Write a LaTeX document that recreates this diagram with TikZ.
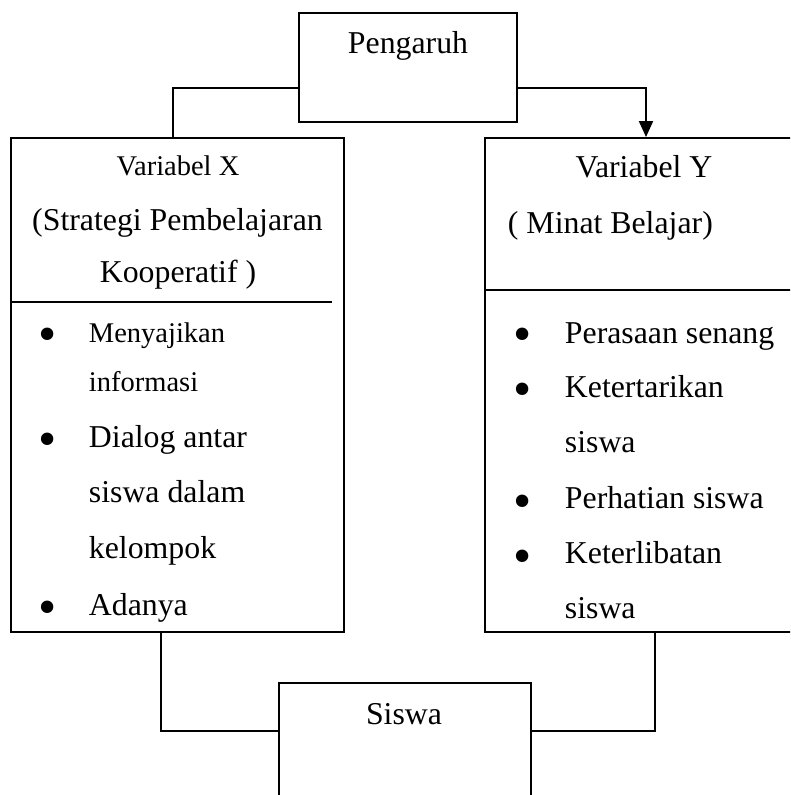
\documentclass[tikz,border=0pt]{standalone}
\usepackage{fontspec}
\setmainfont{Liberation Serif}
\usetikzlibrary{arrows.meta}
\tikzset{
	box/.style={draw,inner sep=0pt},
	txt/.style={inner sep=0pt,anchor=base,font=\fontsize{31.8}{38}\selectfont},
	smalltxt/.style={txt,font=\fontsize{28.5}{34}\selectfont},
	lefttxt/.style={txt,anchor=base west},
	bullet/.style={txt,font=\fontsize{52}{60}\selectfont},
}
\begin{document}
\begin{tikzpicture}[x=1pt,y=-1pt,line width=1.9pt]
	\useasboundingbox (0,0) rectangle (790,795);
	\clip (0,0) rectangle (790,795);
	
	%boxes
	\node[box,minimum width=218pt,minimum height=109pt] (pengaruh) at (408,67.5) {};
	\node[box,minimum width=333pt,minimum height=494pt] (varx) at (177.5,385) {};
	\node[box,minimum width=322pt,minimum height=494pt] (vary) at (646,385) {};
	\node[box,minimum width=252pt,minimum height=150pt] (siswa) at (405,758) {}; %open at the bottom
	
	%dividers
	\draw (varx.west |- 0,302) -- ([xshift=-13pt]varx.east |- 0,302);
	\draw (vary.west |- 0,290) -- (vary.east |- 0,290);
	
	%connectors
	\draw ([yshift=-20.5pt]pengaruh.west) -| ([xshift=-4.5pt]varx.north);
	\draw[-{Triangle[width=14pt,length=16pt]}] ([yshift=-20.5pt]pengaruh.east) -| (vary.north);
	\draw ([xshift=-16.5pt]varx.south) |- ([yshift=-49pt]siswa.north west);
	\draw ([xshift=9pt]vary.south) |- ([yshift=-49pt]siswa.north east);
	
	%titles
	\node[txt] (pengaruhlbl) at (408,53) {Pengaruh};
	\node[smalltxt] (varxlbl) at (178,175) {Variabel X};
	\node[txt] (varxsub) at (177.5,230) {(Strategi Pembelajaran};
	\node[txt] (varxsub2) at (178,282) {Kooperatif )};
	\node[txt] (varylbl) at (644,177) {Variabel Y};
	\node[lefttxt] (varysub) at (507,233) {( Minat Belajar)};
	\node[txt] (siswalbl) at (404,724) {Siswa};
	
	%list X
	\node[bullet] (bx1) at (48,351) {\textbullet};
	\node[bullet] (bx2) at (48,456) {\textbullet};
	\node[bullet] (bx3) at (48,624) {\textbullet};
	\node[smalltxt,anchor=base west] (x1a) at (88,342) {Menyajikan};
	\node[smalltxt,anchor=base west] (x1b) at (88,391) {informasi};
	\node[lefttxt] (x2a) at (88,447) {Dialog antar};
	\node[lefttxt] (x2b) at (88,502) {siswa dalam};
	\node[lefttxt] (x2c) at (88,558) {kelompok};
	\node[lefttxt] (x3a) at (88,615) {Adanya};
	
	%list Y
	\node[bullet] (by1) at (523,351) {\textbullet};
	\node[bullet] (by2) at (523,406) {\textbullet};
	\node[bullet] (by3) at (523,518) {\textbullet};
	\node[bullet] (by4) at (523,573) {\textbullet};
	\node[lefttxt] (y1a) at (564,343) {Perasaan senang};
	\node[lefttxt] (y2a) at (564,397) {Ketertarikan};
	\node[lefttxt] (y2b) at (564,452) {siswa};
	\node[lefttxt] (y3a) at (564,508) {Perhatian siswa};
	\node[lefttxt] (y4a) at (564,563) {Keterlibatan};
	\node[lefttxt] (y4b) at (564,618) {siswa};
\end{tikzpicture}
\end{document}
